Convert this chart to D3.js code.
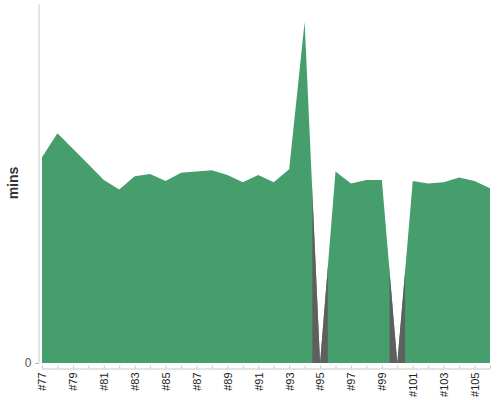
<!DOCTYPE html>
<html>
<head>
<meta charset="utf-8">
<script src="https://cdn.jsdelivr.net/npm/d3@7"></script>
<style>
html,body{margin:0;padding:0;background:#fff;}
svg{display:block;font-family:"Liberation Sans",Arial,sans-serif;}
</style>
</head>
<body>
<svg id="chart" width="500" height="400"></svg>
<script>
const builds = ["#77","#78","#79","#80","#81","#82","#83","#84","#85","#86","#87","#88","#89","#90","#91","#92","#93","#94","#95","#96","#97","#98","#99","#100","#101","#102","#103","#104","#105","#106"];
const minutes = [17.2,19.2,17.9,16.6,15.3,14.5,15.6,15.8,15.2,15.9,16.0,16.1,15.7,15.1,15.7,15.1,16.2,28.5,0,16.0,15.0,15.3,15.3,0,15.2,15.0,15.1,15.5,15.2,14.6];
const status = ["ok","ok","ok","ok","ok","ok","ok","ok","ok","ok","ok","ok","ok","ok","ok","ok","ok","ok","aborted","ok","ok","ok","ok","aborted","ok","ok","ok","ok","ok","ok"];
const yTicks = [0];
const yMax = 30;

const colors = {ok:"#459e6c", aborted:"#5f5f5f"};
const svg = d3.select("#chart");
const data = builds.map((b,i)=>({b, v:minutes[i], s:status[i]}));

const x = d3.scalePoint().domain(builds).range([42, 490]);
const y = d3.scaleLinear().domain([0, yMax]).range([363, 4]);
const step = x.step();

const area = d3.area().x(d=>x(d.b)).y0(y(0)).y1(d=>y(d.v));

const defs = svg.append("defs");
svg.append("path").datum(data).attr("d", area).attr("fill", colors.ok);

data.forEach((d,i)=>{
  if (d.s !== "aborted") return;
  const id = "clip" + i;
  defs.append("clipPath").attr("id", id).append("rect")
    .attr("x", x(d.b) - step/2).attr("width", step)
    .attr("y", 0).attr("height", 400);
  svg.append("path").datum(data).attr("d", area)
    .attr("fill", colors.aborted).attr("clip-path", `url(#${id})`);
});

// Y axis
const yAxis = svg.append("g").attr("transform","translate(38.5,0)")
  .call(d3.axisLeft(y).tickValues(yTicks).tickSize(3).tickSizeOuter(0).tickPadding(4));
yAxis.select(".domain").attr("stroke","#c8c8c8");
yAxis.selectAll(".tick line").attr("stroke","#aaa");
yAxis.selectAll(".tick text").attr("font-size",12).attr("fill","#555")
  .attr("font-family","Liberation Sans, Arial, sans-serif");

// X axis
const xAxis = svg.append("g").attr("transform","translate(0,368.5)")
  .call(d3.axisBottom(x).tickSize(-3).tickSizeOuter(0)
    .tickFormat((d,i)=> i % 2 === 0 ? d : ""));
xAxis.select(".domain").attr("stroke","#c8c8c8");
xAxis.selectAll(".tick line").attr("stroke","#c8c8c8");
xAxis.selectAll(".tick text")
  .attr("font-size",11).attr("fill","#222")
  .attr("font-family","Liberation Sans, Arial, sans-serif")
  .attr("text-anchor","end")
  .attr("transform","rotate(-90)")
  .attr("x",-4).attr("y",0).attr("dy","0.35em");

// Y label
svg.append("text").attr("transform","translate(18,183) rotate(-90)")
  .attr("text-anchor","middle").attr("font-size",14).attr("font-weight","bold")
  .attr("fill","#333").text("mins");
</script>
</body>
</html>
